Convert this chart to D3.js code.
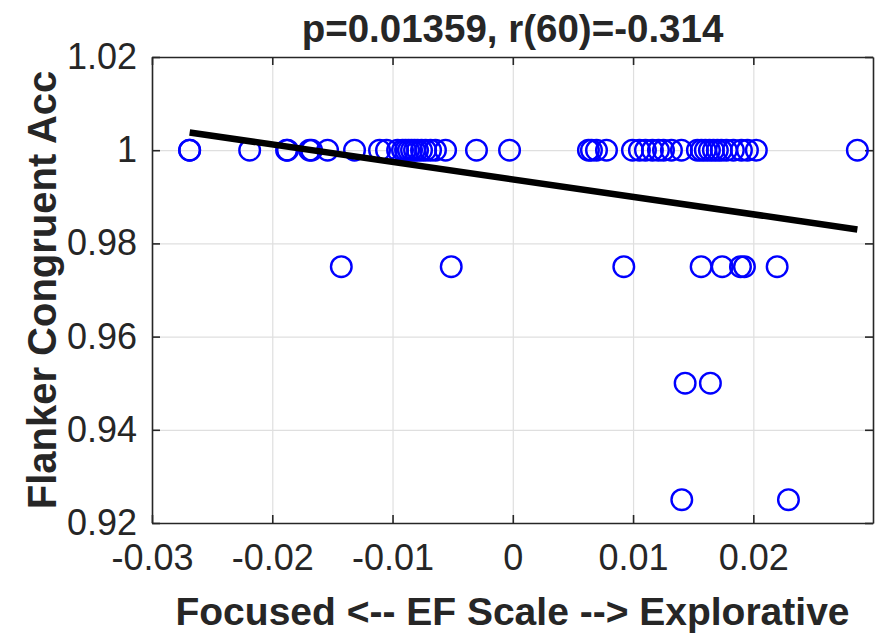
<!DOCTYPE html>
<html><head><meta charset="utf-8">
<script src="https://cdn.jsdelivr.net/npm/d3@7"></script>
<style>
body{margin:0;background:#fff}
svg{display:block}
text{font-family:"Liberation Sans",Arial,Helvetica,sans-serif;fill:#262626}
</style>
</head><body><svg id="c" width="878" height="633"></svg>
<script>
const titleText = "p=0.01359, r(60)=-0.314";
const xAxisTitle = "Focused <-- EF Scale --> Explorative";
const yAxisTitle = "Flanker Congruent Acc";
const xTicks = [-0.03, -0.02, -0.01, 0, 0.01, 0.02];
const xTickLabels = ["-0.03", "-0.02", "-0.01", "0", "0.01", "0.02"];
const yTicks = [0.92, 0.94, 0.96, 0.98, 1.0, 1.02];
const yTickLabels = ["0.92", "0.94", "0.96", "0.98", "1", "1.02"];

// EF scale (x) and Flanker congruent accuracy (y), one entry per participant
const efScale = [
  -0.02687, -0.02687, -0.02188, -0.01881, -0.01873, -0.01690, -0.01673, -0.01540,
  -0.01316, -0.01108, -0.01050, -0.00958, -0.00917, -0.00892, -0.00867, -0.00842,
  -0.00817, -0.00792, -0.00759, -0.00725, -0.00684, -0.00643, -0.00559, -0.00302,
  -0.00027, 0.00629, 0.00654, 0.00696, 0.00779, 0.00995, 0.01053, 0.01103,
  0.01161, 0.01211, 0.01253, 0.01319, 0.01402, 0.01535, 0.01568, 0.01601,
  0.01635, 0.01668, 0.01701, 0.01734, 0.01776, 0.01834, 0.01901, 0.01951,
  0.02025, 0.02865,
  -0.01426, -0.00512, 0.00923, 0.01566, 0.01741, 0.01893, 0.01926, 0.02198,
  0.01433, 0.01643,
  0.01405, 0.02292
];
const congruentAcc = [
  1, 1, 1, 1, 1, 1, 1, 1,
  1, 1, 1, 1, 1, 1, 1, 1,
  1, 1, 1, 1, 1, 1, 1, 1,
  1, 1, 1, 1, 1, 1, 1, 1,
  1, 1, 1, 1, 1, 1, 1, 1,
  1, 1, 1, 1, 1, 1, 1, 1,
  1, 1,
  0.975, 0.975, 0.975, 0.975, 0.975, 0.975, 0.975, 0.975,
  0.95, 0.95,
  0.925, 0.925
];
// least-squares fit line endpoints
const fitX = [-0.02687, 0.02865];
const fitY = [1.0038, 0.9830];

const W = 878, H = 633;
const m = {left: 152, right: 5, top: 57, bottom: 110};
const iw = W - m.left - m.right, ih = H - m.top - m.bottom;

const svg = d3.select("#c");
const g = svg.append("g").attr("transform", `translate(${m.left},${m.top})`);

const x = d3.scaleLinear().domain([-0.03, 0.02995]).range([0, iw]);
const y = d3.scaleLinear().domain([0.92, 1.02]).range([ih, 0]);

// grid
g.append("g").attr("class", "grid")
  .call(d3.axisBottom(x).tickValues(xTicks).tickSize(ih).tickFormat(""))
  .call(s => s.select(".domain").remove())
  .call(s => s.selectAll("line").attr("stroke", "#dfdfdf").attr("stroke-width", 1.2));
g.append("g").attr("class", "grid")
  .call(d3.axisLeft(y).tickValues(yTicks).tickSize(-iw).tickFormat(""))
  .call(s => s.select(".domain").remove())
  .call(s => s.selectAll("line").attr("stroke", "#dfdfdf").attr("stroke-width", 1.2));

const axColor = "#262626";
const tickFont = 36;
function styleAxis(s){
  s.select(".domain").attr("stroke", axColor).attr("stroke-width", 1.6);
  s.selectAll(".tick line").attr("stroke", axColor).attr("stroke-width", 1.6);
  s.selectAll(".tick text").attr("font-size", tickFont).attr("fill", axColor);
}
// bottom axis
g.append("g").attr("transform", `translate(0,${ih})`)
  .call(d3.axisBottom(x).tickValues(xTicks).tickFormat((d,i) => xTickLabels[i])
    .tickSizeInner(-8).tickSizeOuter(0).tickPadding(21))
  .call(styleAxis);
// top axis (ticks only)
g.append("g")
  .call(d3.axisTop(x).tickValues(xTicks).tickFormat("").tickSizeInner(-8).tickSizeOuter(0))
  .call(styleAxis);
// left axis
g.append("g")
  .call(d3.axisLeft(y).tickValues(yTicks).tickFormat((d,i) => yTickLabels[i])
    .tickSizeInner(-8).tickSizeOuter(0).tickPadding(15))
  .call(styleAxis);
// right axis (ticks only)
g.append("g").attr("transform", `translate(${iw},0)`)
  .call(d3.axisRight(y).tickValues(yTicks).tickFormat("").tickSizeInner(-8).tickSizeOuter(0))
  .call(styleAxis);

// points
g.append("g").selectAll("circle")
  .data(efScale.map((v, i) => [v, congruentAcc[i]]))
  .join("circle")
  .attr("cx", d => x(d[0])).attr("cy", d => y(d[1]))
  .attr("r", 10.3).attr("fill", "none")
  .attr("stroke", "#0000ff").attr("stroke-width", 2.4);

// fit line
g.append("path")
  .datum(fitX.map((v, i) => [v, fitY[i]]))
  .attr("d", d3.line().x(d => x(d[0])).y(d => y(d[1])))
  .attr("stroke", "#000").attr("stroke-width", 6.5).attr("fill", "none");

// titles
svg.append("text").attr("x", m.left + iw / 2).attr("y", 42)
  .attr("text-anchor", "middle").attr("font-size", 38.5).attr("font-weight", "bold")
  .attr("fill", "#000").text(titleText);
svg.append("text").attr("x", m.left + iw / 2).attr("y", 625)
  .attr("text-anchor", "middle").attr("font-size", 39).attr("font-weight", "bold")
  .text(xAxisTitle);
svg.append("text").attr("transform", `translate(56,${m.top + ih / 2}) rotate(-90)`)
  .attr("text-anchor", "middle").attr("font-size", 40).attr("font-weight", "bold")
  .text(yAxisTitle);
</script>
</body></html>
